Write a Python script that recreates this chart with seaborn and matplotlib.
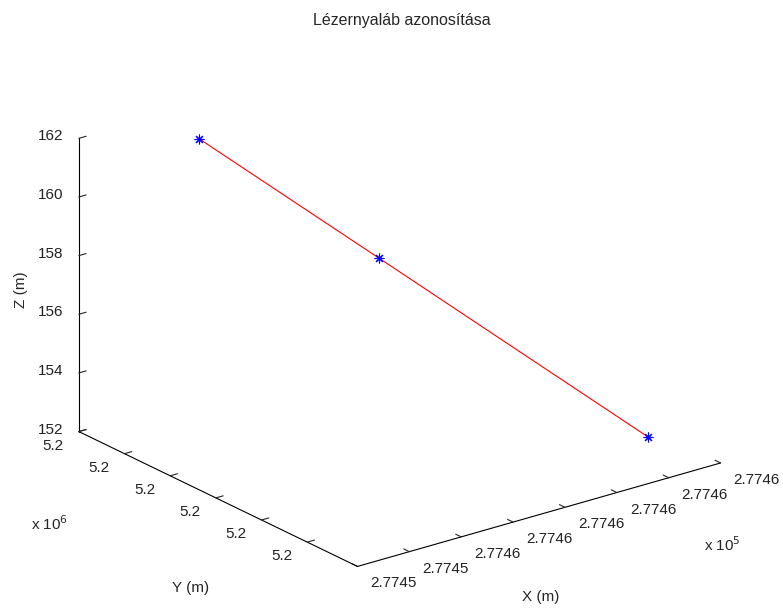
import matplotlib
matplotlib.use("Agg")
import matplotlib.pyplot as plt
import matplotlib.transforms as mtransforms
import seaborn as sns
from matplotlib.ticker import FixedLocator, NullFormatter

sns.set_theme(style="white")
plt.rcParams['font.family'] = ['Liberation Sans', 'DejaVu Sans']

# beam points (m)
x_m = [277454.45, 277456.58, 277459.77]
y_m = [5204256.02, 5204254.50, 5204252.22]
z_m = [162.0, 158.0, 152.0]

x_ticks = [277453, 277454, 277455, 277456, 277457, 277458, 277459, 277460]
y_ticks = [5204252, 5204253, 5204254, 5204255, 5204256, 5204257]
z_ticks = [152, 154, 156, 158, 160, 162]
x_lim = (277453, 277460)
y_lim = (5204250.9, 5204257)
z_lim = (152, 162)

fig = plt.figure(figsize=(7.83, 6.08), dpi=100)
ax = fig.add_axes([0.0, -0.008, 1.0, 1.0], projection='3d', proj_type='ortho')

ax.plot(x_m, y_m, z_m, color='red', lw=0.8)
ax.plot(x_m, y_m, z_m, ls='none', marker=(8, 2, 0), ms=7, mew=0.8, color='blue')

ax.set_xlim(*x_lim)
ax.set_ylim(*y_lim)
ax.set_zlim(*z_lim)
ax.xaxis.set_major_locator(FixedLocator(x_ticks))
ax.yaxis.set_major_locator(FixedLocator(y_ticks))
ax.zaxis.set_major_locator(FixedLocator(z_ticks))

ax.set_box_aspect((1, 1, 0.69), zoom=1.15)
ax.view_init(elev=21.8, azim=-127.5)
ax.grid(False)
for axis in (ax.xaxis, ax.yaxis, ax.zaxis):
    axis.set_major_formatter(NullFormatter())
    axis.pane.fill = False
    axis.pane.set_edgecolor('none')
    axis.line.set_color('black')
    axis.line.set_linewidth(0.8)
    axis._axinfo['tick']['inward_factor'] = 0.0
    axis._axinfo['tick']['outward_factor'] = 0.25
    axis._axinfo['tick']['linewidth'] = {True: 0.8, False: 0.5}
    axis._axinfo['tick']['color'] = 'black'


def shifted(dx, dy):
    # pixel offset (right, down) for tick labels
    return ax.transData + mtransforms.ScaledTranslation(dx / 100, -dy / 100, fig.dpi_scale_trans)


tick_font = dict(fontsize=11, color='#222222')
for v in x_ticks:
    ax.text(v, y_lim[0], z_lim[0], f"{v / 1e5:.4f}", ha='left', va='center',
            transform=shifted(13, 17), **tick_font)
for v in y_ticks:
    ax.text(x_lim[0], v, z_lim[0], f"{v / 1e6:.1f}", ha='right', va='center',
            transform=shifted(-15, 14), **tick_font)
for v in z_ticks:
    ax.text(x_lim[0], y_lim[1], v, f"{v:g}", ha='right', va='center',
            transform=shifted(-15, -2), **tick_font)

fig.text(0.513, 0.966, "Lézernyaláb azonosítása", ha='center', va='center', fontsize=11.5)
fig.text(0.063, 0.138, "x 10$^6$", ha='center', va='center', fontsize=11)
fig.text(0.923, 0.104, "x 10$^5$", ha='center', va='center', fontsize=11)
fig.text(0.244, 0.033, "Y (m)", ha='center', va='center', fontsize=11)
fig.text(0.691, 0.018, "X (m)", ha='center', va='center', fontsize=11)
fig.text(0.027, 0.523, "Z (m)", ha='center', va='center', rotation=90, fontsize=11)

fig.savefig("out.png", dpi=100)
